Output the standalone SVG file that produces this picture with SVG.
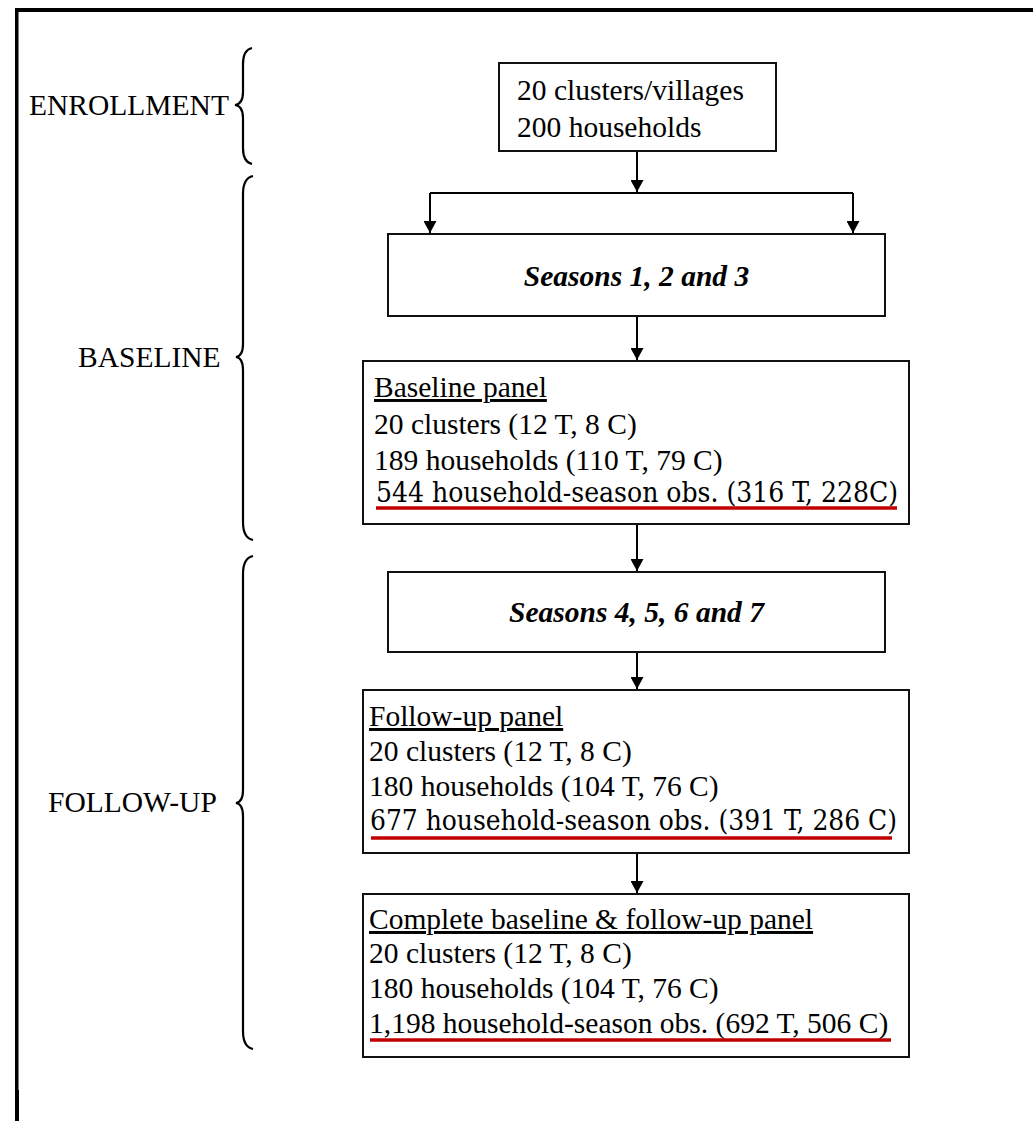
<svg xmlns="http://www.w3.org/2000/svg" width="1033" height="1121" viewBox="0 0 1033 1121">
<style>
.t{font-family:"Liberation Serif","Times New Roman",serif;font-size:29.5px;fill:#000}
.c{font-family:"DejaVu Serif Condensed","DejaVu Serif",serif;font-size:27px;fill:#000}
.bi{font-family:"Liberation Serif","Times New Roman",serif;font-size:29.5px;font-weight:bold;font-style:italic;fill:#000}
.u{text-decoration:underline}
.box{fill:#fff;stroke:#111;stroke-width:2}
.ln{fill:none;stroke:#000;stroke-width:2}
.red{stroke:#c00000;stroke-width:3.5}
.br{fill:none;stroke:#000;stroke-width:2.2}
</style>
<defs>
<marker id="ah" markerUnits="userSpaceOnUse" markerWidth="13" markerHeight="13" refX="12" refY="6.5" orient="auto">
<path d="M0,0 L12,6.5 L0,13 z" fill="#000"/>
</marker>
</defs>
<rect x="0" y="0" width="1033" height="1121" fill="#fff"/>
<g id="frame">
<rect x="15" y="8" width="1018" height="4" fill="#000"/>
<rect x="15" y="8" width="3.5" height="1113" fill="#000"/>
<rect x="15" y="1090" width="4" height="31" fill="#000"/>
</g>
<g id="labels">
<g id="enrollment">
<text class="t" x="29" y="115">ENROLLMENT</text>
<path class="br" d="M252,48 Q243,50 243,64 L243,92 Q243,104 235,105 Q243,106 243,118 L243,148 Q243,162 252,164"/>
</g>
<g id="baseline">
<text class="t" x="78" y="367">BASELINE</text>
<path class="br" d="M253,176 Q243,178 243,194 L243,344 Q243,356 236,357 Q243,358 243,370 L243,522 Q243,538 253,540"/>
</g>
<g id="followup">
<text class="t" x="48" y="812">FOLLOW-UP</text>
<path class="br" d="M253,556 Q243,558 243,574 L243,790 Q243,802 236,803 Q243,804 243,816 L243,1031 Q243,1047 253,1049"/>
</g>
</g>
<g id="connectors">
<path class="ln" d="M637,151 V192" marker-end="url(#ah)"/>
<path class="ln" d="M430,193 H853"/>
<path class="ln" d="M430,193 V233" marker-end="url(#ah)"/>
<path class="ln" d="M853,193 V233" marker-end="url(#ah)"/>
<path class="ln" d="M637,316 V360" marker-end="url(#ah)"/>
<path class="ln" d="M637,524 V571" marker-end="url(#ah)"/>
<path class="ln" d="M637,652 V689" marker-end="url(#ah)"/>
<path class="ln" d="M637,853 V893" marker-end="url(#ah)"/>
</g>
<g id="enroll-box">
<rect class="box" x="499" y="63" width="277" height="88"/>
<text class="t" x="517" y="100">20 clusters/villages</text>
<text class="t" x="517" y="137">200 households</text>
</g>
<g id="seasons-1-3">
<rect class="box" x="388" y="234" width="497" height="82"/>
<text class="bi" x="636.5" y="286" text-anchor="middle">Seasons 1, 2 and 3</text>
</g>
<g id="baseline-panel">
<rect class="box" x="363" y="361" width="546" height="163"/>
<text class="t u" x="374" y="397">Baseline panel</text>
<text class="t" x="374" y="434">20 clusters (12 T, 8 C)</text>
<text class="t" x="374" y="470">189 households (110 T, 79 C)</text>
<text class="c" x="376" y="502" textLength="522" lengthAdjust="spacingAndGlyphs">544 household-season obs. (316 T, 228C)</text>
<line class="red" x1="376" y1="508" x2="897" y2="508"/>
</g>
<g id="seasons-4-7">
<rect class="box" x="388" y="572" width="497" height="80"/>
<text class="bi" x="636.5" y="622" text-anchor="middle">Seasons 4, 5, 6 and 7</text>
</g>
<g id="followup-panel">
<rect class="box" x="363" y="690" width="546" height="163"/>
<text class="t u" x="369" y="726">Follow-up panel</text>
<text class="t" x="369" y="761">20 clusters (12 T, 8 C)</text>
<text class="t" x="369" y="796">180 households (104 T, 76 C)</text>
<text class="c" x="370" y="830" textLength="527" lengthAdjust="spacingAndGlyphs">677 household-season obs. (391 T, 286 C)</text>
<line class="red" x1="371" y1="838" x2="892" y2="838"/>
</g>
<g id="complete-panel">
<rect class="box" x="363" y="894" width="546" height="163"/>
<text class="t u" x="369" y="929">Complete baseline &amp; follow-up panel</text>
<text class="t" x="369" y="963">20 clusters (12 T, 8 C)</text>
<text class="t" x="369" y="998">180 households (104 T, 76 C)</text>
<text class="t" x="369" y="1033">1,198 household-season obs. (692 T, 506 C)</text>
<line class="red" x1="370" y1="1040" x2="891" y2="1040"/>
</g>
</svg>
